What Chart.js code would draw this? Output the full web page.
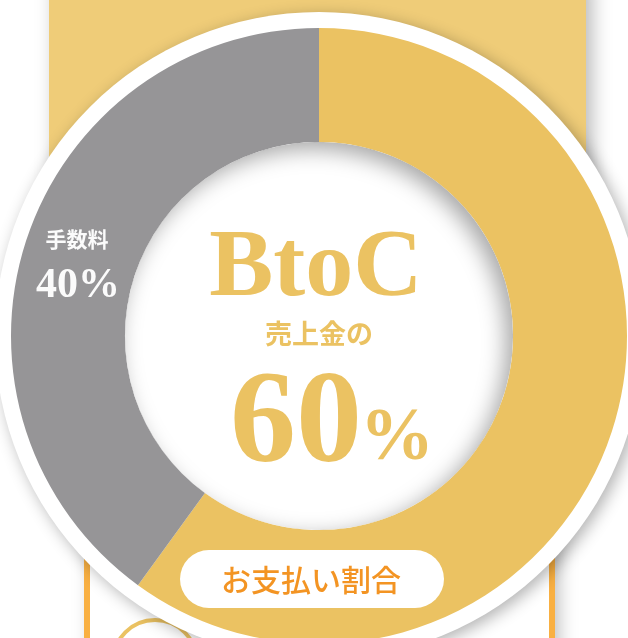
<!DOCTYPE html>
<html lang="ja">
<head>
<meta charset="UTF-8">
<title>お支払い割合</title>
<script src="https://cdn.jsdelivr.net/npm/chart.js"></script>
<style>
  html, body { margin: 0; padding: 0; background: #fff; overflow: hidden; }
  #wrap { width: 628px; height: 644px; }
</style>
</head>
<body>
<div id="wrap"><canvas id="payChart" width="628" height="644"></canvas></div>
<script>
// data
const labels = ['売上金', '手数料'];
const values = [60, 40];
const sliceColors = ['#ebc262', '#969597'];
const centerTitle = 'BtoC';
const centerSub = '売上金の';
const feeLabel = '手数料';
const caption = 'お支払い割合';

const SERIF = '"Liberation Serif", "DejaVu Serif", serif';
const CJK = '"Noto Sans CJK JP", "Noto Sans", sans-serif';

// background panels + white ring behind the doughnut
const backdrop = {
  id: 'backdrop',
  beforeDraw(chart) {
    const c = chart.ctx;
    const arc = chart.getDatasetMeta(0).data[0];
    const cx = arc.x, cy = arc.y, R = arc.outerRadius;
    c.save();
    c.fillStyle = '#fff';
    c.fillRect(0, 0, chart.width, chart.height);

    // yellow panel
    c.shadowColor = 'rgba(0,0,0,0.28)';
    c.shadowBlur = 18;
    c.shadowOffsetX = 6;
    c.fillStyle = '#efcc78';
    c.fillRect(49, -20, 537, 480);

    // lower white box with orange sides
    c.fillStyle = '#fff';
    c.fillRect(86, 520, 466, 200);
    c.shadowColor = 'transparent';
    c.fillStyle = '#f9b042';
    c.fillRect(84, 520, 6, 200);
    c.fillRect(549, 520, 6, 200);

    // small circle outline
    c.strokeStyle = '#ebc262';
    c.lineWidth = 4;
    c.beginPath();
    c.arc(155, 662, 42, 0, Math.PI * 2);
    c.stroke();

    // white ring
    c.shadowColor = 'rgba(0,0,0,0.3)';
    c.shadowBlur = 16;
    c.shadowOffsetX = 4;
    c.shadowOffsetY = 4;
    c.fillStyle = '#fff';
    c.beginPath();
    c.arc(cx, cy, R + 16, 0, Math.PI * 2);
    c.fill();
    c.restore();
  }
};

// inner shadow, centre text, labels and caption pill
const overlay = {
  id: 'overlay',
  afterDraw(chart) {
    const c = chart.ctx;
    const arc = chart.getDatasetMeta(0).data[0];
    const cx = arc.x, cy = arc.y, r = arc.innerRadius;
    c.save();
    c.beginPath();
    c.arc(cx, cy, r, 0, Math.PI * 2);
    c.clip();
    c.shadowColor = 'rgba(0,0,0,0.35)';
    c.shadowBlur = 22;
    c.shadowOffsetX = -7;
    c.shadowOffsetY = 7;
    c.strokeStyle = '#fff';
    c.lineWidth = 40;
    c.beginPath();
    c.arc(cx, cy, r + 20, 0, Math.PI * 2);
    c.stroke();
    c.restore();

    c.save();
    c.fillStyle = sliceColors[0];
    c.textAlign = 'center';
    c.textBaseline = 'alphabetic';
    c.font = 'bold 96px ' + SERIF;
    c.fillText(centerTitle, 316, 295);

    c.textBaseline = 'middle';
    c.font = 'bold 27px ' + CJK;
    c.fillText(centerSub, 319, 334);

    // big percentage
    c.textBaseline = 'alphabetic';
    c.textAlign = 'left';
    const num = String(values[0]);
    c.font = 'bold 132px ' + SERIF;
    const wNum = c.measureText(num).width;
    c.font = 'bold 74px ' + SERIF;
    const wPct = c.measureText('%').width;
    let x0 = 333 - (wNum + wPct) / 2;
    c.font = 'bold 132px ' + SERIF;
    c.fillText(num, x0, 461);
    c.font = 'bold 74px ' + SERIF;
    c.fillText('%', x0 + wNum - 2, 459);

    // fee label on grey slice
    c.textAlign = 'center';
    c.fillStyle = '#fbfbfb';
    c.textBaseline = 'middle';
    c.font = 'bold 21px ' + CJK;
    c.fillText(feeLabel, 77, 239);
    c.textBaseline = 'alphabetic';
    c.font = 'bold 42px ' + SERIF;
    c.fillText(values[1] + '%', 78, 297);

    // caption pill
    c.fillStyle = '#fff';
    c.beginPath();
    c.roundRect(180, 550, 264, 58, 29);
    c.fill();
    c.fillStyle = '#f39423';
    c.textBaseline = 'middle';
    c.font = '500 30px ' + CJK;
    c.fillText(caption, 311, 580);
    c.restore();
  }
};

new Chart(document.getElementById('payChart'), {
  type: 'doughnut',
  data: {
    labels: labels,
    datasets: [{
      data: values,
      backgroundColor: sliceColors,
      borderWidth: 0
    }]
  },
  options: {
    responsive: false,
    animation: false,
    cutout: '63%',
    layout: { padding: { left: 11, right: 1, top: 28, bottom: 0 } },
    plugins: {
      legend: { display: false },
      tooltip: { enabled: false }
    }
  },
  plugins: [backdrop, overlay]
});
</script>
</body>
</html>
